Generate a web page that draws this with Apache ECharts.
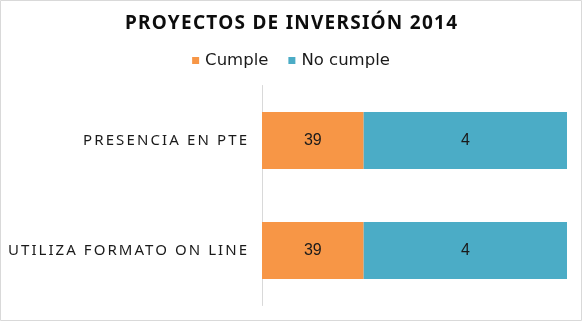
<!DOCTYPE html>
<html><head><meta charset="utf-8">
<script src="https://cdn.jsdelivr.net/npm/echarts@6/dist/echarts.min.js"></script>
<style>html,body{margin:0;padding:0;background:#fff}#c{width:582px;height:321px}</style>
</head><body><div id="c"></div>
<script>
const categories = ['PRESENCIA EN PTE', 'UTILIZA FORMATO ON LINE'];
const cumple = [39, 39];
const noCumple = [4, 4];
const seriesNames = ['Cumple', 'No cumple'];
const titleText = 'PROYECTOS DE INVERSIÓN 2014';

// letter-spaced text styling (as in the reference's wide tracking)
const titleFont = 'bold 19px "Noto Sans"';
const labelFont = '15px "Noto Sans"';
const trackTargets = [
  [titleText, titleFont, 332],
  [categories[0], labelFont, 164],
  [categories[1], labelFont, 239]
];
const spacing = {};
const mctx = document.createElement('canvas').getContext('2d');
trackTargets.forEach(([t, f, w]) => {
  mctx.font = f;
  const base = mctx.measureText(t).width;
  spacing[t] = Math.max(0, (w - base) / (t.length - 1));
});
const origFill = CanvasRenderingContext2D.prototype.fillText;
CanvasRenderingContext2D.prototype.fillText = function (t, x, y, m) {
  const sp = spacing[t];
  if ('letterSpacing' in this) {
    const f = this.font;
    this.letterSpacing = sp ? sp + 'px' : '0px';
    this.font = f;
  }
  let dx = 0;
  if (sp) {
    if (this.textAlign === 'right' || this.textAlign === 'end') dx = sp;
    else if (this.textAlign === 'center') dx = sp / 2;
  }
  origFill.call(this, t, x + dx, y, m);
  if ('letterSpacing' in this && sp) {
    const f = this.font;
    this.letterSpacing = '0px';
    this.font = f;
  }
};

const chart = echarts.init(document.getElementById('c'), null, {renderer: 'canvas'});
const labelStyle = {show: true, position: 'inside', color: '#1a1a1a', fontSize: 16, fontFamily: 'Liberation Sans'};
chart.setOption({
  animation: false,
  title: {
    text: titleText, left: 'center', top: 9,
    textStyle: {fontFamily: 'Noto Sans', fontWeight: 'bold', fontSize: 19, color: '#0d0d0d'}
  },
  legend: {
    top: 47, left: 'center', itemWidth: 7, itemHeight: 7, itemGap: 20, icon: 'rect',
    textStyle: {fontFamily: 'DejaVu Sans', fontSize: 16.5, color: '#1a1a1a', padding: [0,0,0,1]},
    data: seriesNames
  },
  grid: {left: 262, right: 15, top: 85.5, bottom: 15.5, containLabel: false},
  xAxis: {type: 'value', min: 37, max: 43, show: false},
  yAxis: {
    type: 'category', data: categories, inverse: true,
    axisLine: {lineStyle: {color: '#d9d9d9', width: 1}},
    axisTick: {show: false},
    axisLabel: {fontFamily: 'Noto Sans', fontSize: 15, color: '#1a1a1a', margin: 15}
  },
  graphic: [{type: 'rect', shape: {x: 0.5, y: 0.5, width: 581, height: 320}, style: {fill: null, stroke: '#d9d9d9', lineWidth: 1}}],
  series: [
    {name: seriesNames[0], type: 'bar', stack: 't', data: cumple, barWidth: 57, itemStyle: {color: '#F79646'}, label: labelStyle},
    {name: seriesNames[1], type: 'bar', stack: 't', data: noCumple, barWidth: 57, itemStyle: {color: '#4BACC6'}, label: labelStyle}
  ]
});
</script></body></html>
